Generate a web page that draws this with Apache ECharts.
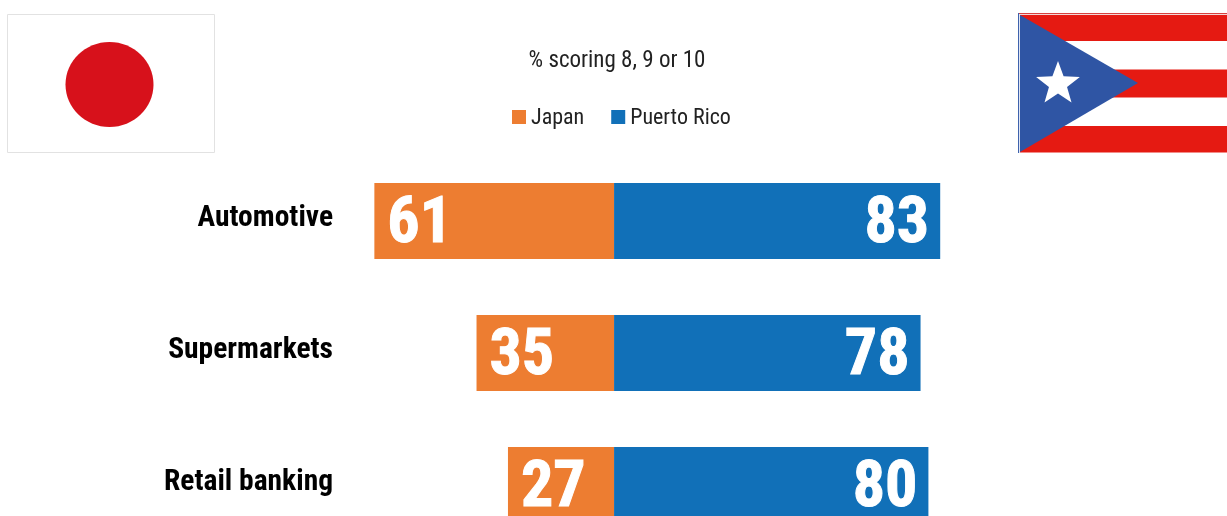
<!DOCTYPE html>
<html>
<head>
<meta charset="utf-8">
<style>html,body{margin:0;padding:0;background:#fff}#chart{width:1227px;height:516px}</style>
<script src="https://cdn.jsdelivr.net/npm/echarts@6/dist/echarts.min.js"></script>
</head>
<body>
<div id="chart"></div>
<script>
// Share of respondents scoring 8, 9 or 10, by sector
const sectors = ['Automotive', 'Supermarkets', 'Retail banking'];
const japan = [61, 35, 27];
const puertoRico = [83, 78, 80];
const subtitle = '% scoring 8, 9 or 10';
const FONT = '"Roboto Condensed", "Liberation Sans", sans-serif';
const ORANGE = '#ed7d31';
const BLUE = '#1170b8';
const FLAG_RED = '#e51a12';
const FLAG_BLUE = '#2f55a4';

const chart = echarts.init(document.getElementById('chart'), null, { renderer: 'canvas' });

const bigLabel = (position, dx) => ({
  show: true,
  position,
  distance: 12,
  offset: [dx, 5],
  color: '#fff',
  textBorderColor: '#fff',
  textBorderWidth: 1,
  fontFamily: FONT,
  fontWeight: 'bold',
  fontSize: 64,
  formatter: (p) => String(Math.abs(p.value))
});

// Five-pointed star outline for the Puerto Rican flag
function starPoints(cx, cy, outer, inner) {
  const pts = [];
  for (let i = 0; i < 10; i++) {
    const r = i % 2 ? inner : outer;
    const a = -Math.PI / 2 + i * Math.PI / 5;
    pts.push([cx + r * Math.cos(a), cy + r * Math.sin(a)]);
  }
  return pts;
}

chart.setOption({
  animation: false,
  backgroundColor: '#fff',
  title: {
    text: subtitle,
    left: 612,
    top: 45,
    textAlign: 'center',
    textStyle: { fontFamily: FONT, fontWeight: 'normal', fontSize: 23, color: '#222' }
  },
  legend: {
    left: 507,
    top: 102,
    itemWidth: 14,
    itemHeight: 14,
    itemGap: 27,
    icon: 'rect',
    selectedMode: false,
    textStyle: {
      fontFamily: FONT,
      fontSize: 22,
      color: '#222',
      rich: { t: { fontFamily: FONT, fontSize: 22, color: '#222', padding: [2, 0, 0, 0] } }
    },
    formatter: '{t|{name}}',
    data: ['Japan', 'Puerto Rico']
  },
  grid: { left: 339, top: 155, width: 668, height: 396, outerBoundsMode: 'none' },
  xAxis: { type: 'value', min: -70, max: 100, show: false },
  yAxis: {
    type: 'category',
    inverse: true,
    data: sectors,
    axisLine: { show: false },
    axisTick: { show: false },
    axisLabel: {
      margin: 6,
      formatter: '{name|{value}}',
      rich: {
        name: {
          padding: [0, 0, 4, 0],
          fontFamily: FONT,
          fontWeight: 'bold',
          fontSize: 29.5,
          color: '#000'
        }
      }
    }
  },
  series: [
    {
      name: 'Japan',
      type: 'bar',
      stack: 'score',
      barWidth: 76,
      itemStyle: { color: ORANGE },
      label: bigLabel('insideLeft', 1),
      data: japan.map((v) => -v)
    },
    {
      name: 'Puerto Rico',
      type: 'bar',
      stack: 'score',
      barWidth: 76,
      itemStyle: { color: BLUE },
      label: bigLabel('insideRight', 1),
      data: puertoRico
    }
  ],
  graphic: [
    // Japanese flag
    { type: 'rect', shape: { x: 7.5, y: 14.5, width: 207, height: 138 }, style: { fill: '#fff', stroke: '#e2e2e2', lineWidth: 1 } },
    { type: 'ellipse', shape: { cx: 109.5, cy: 84.5, rx: 44, ry: 42.5 }, style: { fill: '#d7111b' } },
    // Puerto Rican flag with its thin scanned edge
    { type: 'rect', shape: { x: 1018, y: 13, width: 209, height: 1 }, style: { fill: '#d8413f' } },
    { type: 'rect', shape: { x: 1018, y: 13, width: 1, height: 140 }, style: { fill: '#3f62ad' } },
    { type: 'rect', shape: { x: 1019, y: 14, width: 208, height: 1 }, style: { fill: '#f3d6d6' } },
    { type: 'rect', shape: { x: 1020, y: 15, width: 207, height: 26 }, style: { fill: FLAG_RED } },
    { type: 'rect', shape: { x: 1020, y: 69.5, width: 207, height: 28 }, style: { fill: FLAG_RED } },
    { type: 'rect', shape: { x: 1020, y: 126, width: 207, height: 26.5 }, style: { fill: FLAG_RED } },
    { type: 'rect', shape: { x: 1019, y: 14, width: 1, height: 139 }, style: { fill: '#dfe5f2' } },
    { type: 'polygon', shape: { points: [[1020, 15], [1138, 83], [1020, 152]] }, style: { fill: FLAG_BLUE } },
    { type: 'polygon', shape: { points: starPoints(1058, 84, 23, 9.5) }, style: { fill: '#fff' } }
  ]
});
</script>
</body>
</html>
